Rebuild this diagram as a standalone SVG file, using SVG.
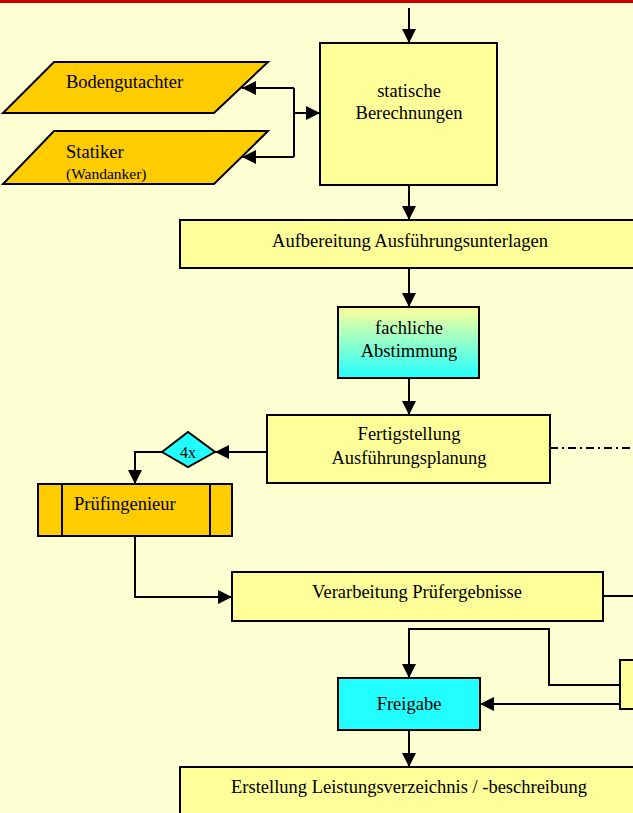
<svg xmlns="http://www.w3.org/2000/svg" width="633" height="813" viewBox="0 0 633 813">
<defs>
<marker id="ah" viewBox="0 0 10 10" refX="10" refY="5" markerWidth="14" markerHeight="14" markerUnits="userSpaceOnUse" orient="auto">
<path d="M0,0 L10,5 L0,10 Z" fill="#000"/>
</marker>
<linearGradient id="gy" x1="0" y1="0" x2="0" y2="1">
<stop offset="0" stop-color="#FFFF99"/>
<stop offset="1" stop-color="#22FFFF"/>
</linearGradient>
<style>
.box{fill:#FFFF99;stroke:#000;stroke-width:2}
.org{fill:#FFCC00;stroke:#000;stroke-width:2}
.cy{fill:#22FFFF;stroke:#000;stroke-width:2}
.ln{fill:none;stroke:#000;stroke-width:2}
.t{font-family:"Liberation Serif","Times New Roman",serif;font-size:18.5px;fill:#000;text-anchor:middle}
.tl{font-family:"Liberation Serif","Times New Roman",serif;font-size:18.5px;fill:#000}
.ts{font-family:"Liberation Serif","Times New Roman",serif;font-size:15.5px;fill:#000}
</style>
</defs>
<rect x="0" y="0" width="633" height="813" fill="#FFFFD4"/>
<rect x="0" y="0" width="633" height="3" fill="#CC0000"/>

<g id="connectors">
<line class="ln" x1="409" y1="8" x2="409" y2="43" marker-end="url(#ah)"/>
<line class="ln" x1="294" y1="113" x2="320" y2="113" marker-end="url(#ah)"/>
<polyline class="ln" points="294,88 294,157"/>
<line class="ln" x1="294" y1="88" x2="242" y2="88" marker-end="url(#ah)"/>
<line class="ln" x1="294" y1="157" x2="242" y2="157" marker-end="url(#ah)"/>
<line class="ln" x1="409" y1="185" x2="409" y2="220" marker-end="url(#ah)"/>
<line class="ln" x1="409" y1="268" x2="409" y2="307" marker-end="url(#ah)"/>
<line class="ln" x1="409" y1="378" x2="409" y2="415" marker-end="url(#ah)"/>
<line class="ln" x1="267" y1="452" x2="215" y2="452" marker-end="url(#ah)"/>
<polyline class="ln" points="162,452 135,452 135,484" marker-end="url(#ah)"/>
<line class="ln" x1="550" y1="448" x2="633" y2="448" stroke-dasharray="8,4,2,4"/>
<polyline class="ln" points="135,536 135,597 232,597" marker-end="url(#ah)"/>
<line class="ln" x1="603" y1="596" x2="633" y2="596"/>
<polyline class="ln" points="620,685 549,685 549,629 409,629 409,678" marker-end="url(#ah)"/>
<line class="ln" x1="620" y1="704" x2="480" y2="704" marker-end="url(#ah)"/>
<line class="ln" x1="409" y1="730" x2="409" y2="767" marker-end="url(#ah)"/>
</g>

<g id="node-statische">
<rect class="box" x="320" y="43" width="177" height="142"/>
<text class="t" x="409" y="97">statische</text>
<text class="t" x="409" y="119">Berechnungen</text>
</g>

<g id="node-bodengutachter">
<polygon class="org" points="54,62 268,62 214,113 3,113"/>
<text class="tl" x="66" y="88">Bodengutachter</text>
</g>

<g id="node-statiker">
<polygon class="org" points="54,131 268,131 214,184 3,184"/>
<text class="tl" x="66" y="158">Statiker</text>
<text class="ts" x="66" y="179">(Wandanker)</text>
</g>

<g id="node-aufbereitung">
<rect class="box" x="180" y="220" width="460" height="48"/>
<text class="t" x="410" y="247">Aufbereitung Ausführungsunterlagen</text>
</g>

<g id="node-abstimmung">
<rect x="338" y="307" width="141" height="71" fill="url(#gy)" stroke="#000" stroke-width="2"/>
<text class="t" x="409" y="334">fachliche</text>
<text class="t" x="409" y="357">Abstimmung</text>
</g>

<g id="node-fertigstellung">
<rect class="box" x="267" y="415" width="283" height="68"/>
<text class="t" x="409" y="440">Fertigstellung</text>
<text class="t" x="409" y="464">Ausführungsplanung</text>
</g>

<g id="node-4x">
<polygon class="cy" points="162,452 188,432 215,452 188,467"/>
<text class="t" x="188" y="458" style="font-size:16px">4x</text>
</g>

<g id="node-pruefingenieur">
<rect class="org" x="38" y="484" width="194" height="52"/>
<line class="ln" x1="62" y1="484" x2="62" y2="536"/>
<line class="ln" x1="210" y1="484" x2="210" y2="536"/>
<text class="tl" x="74" y="510">Prüfingenieur</text>
</g>

<g id="node-verarbeitung">
<rect class="box" x="232" y="572" width="371" height="49"/>
<text class="t" x="417" y="598">Verarbeitung Prüfergebnisse</text>
</g>

<g id="node-right">
<rect class="box" x="620" y="660" width="30" height="49"/>
</g>

<g id="node-freigabe">
<rect class="cy" x="338" y="678" width="142" height="52"/>
<text class="t" x="409" y="710">Freigabe</text>
</g>

<g id="node-erstellung">
<rect class="box" x="180" y="767" width="460" height="60"/>
<text class="t" x="409" y="793">Erstellung Leistungsverzeichnis / -beschreibung</text>
</g>
</svg>
